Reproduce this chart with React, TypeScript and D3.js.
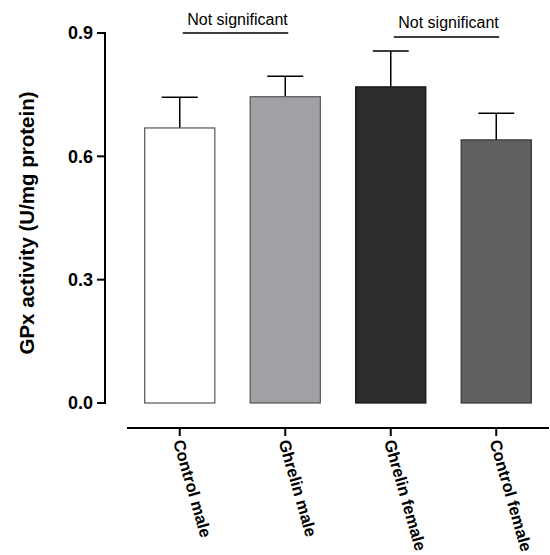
import React from "react";
import * as d3 from "d3";

const categories = ["Control male", "Ghrelin male", "Ghrelin female", "Control female"];
const means = [0.669, 0.745, 0.769, 0.640];
const errors = [0.075, 0.05, 0.087, 0.065];
const fills = ["#ffffff", "#a1a1a5", "#2d2d2d", "#606060"];
const strokes = ["#555555", "#555555", "#111111", "#333333"];
const yTicks = [0.0, 0.3, 0.6, 0.9];
const comparisons: [number, number, string][] = [
  [0, 1, "Not significant"],
  [2, 3, "Not significant"],
];
const yLabel = "GPx activity (U/mg protein)";

export default function App() {
  const W = 550, H = 555;
  const y = d3.scaleLinear().domain([0, 0.9]).range([403, 33]);
  const x = d3.scaleBand<string>().domain(categories).range([127, 549]).padding(0);
  const bw = x.bandwidth() * 0.665;
  const cx = (c: string) => (x(c) as number) + x.bandwidth() / 2;
  const font = "Liberation Sans, Arial, Helvetica, sans-serif";
  const axisX = 105;
  const xAxisY = 428;
  const sigY = [33, 37];
  const sigTextY = [25, 28];
  return (
    <svg width={W} height={H} style={{ position: "absolute", left: 0, top: 0, background: "#fff" }} fontFamily={font}>
      {/* bars */}
      {categories.map((c, i) => (
        <g key={c}>
          <line x1={cx(c)} x2={cx(c)} y1={y(means[i])} y2={y(means[i] + errors[i])} stroke="#000" strokeWidth={1.5} />
          <line x1={cx(c) - 18} x2={cx(c) + 18} y1={y(means[i] + errors[i])} y2={y(means[i] + errors[i])} stroke="#000" strokeWidth={1.5} />
          <rect x={cx(c) - bw / 2} y={y(means[i])} width={bw} height={y(0) - y(means[i])} fill={fills[i]} stroke={strokes[i]} strokeWidth={1.2} />
        </g>
      ))}
      {/* y axis */}
      <line x1={axisX} x2={axisX} y1={y(0.9) - 1} y2={y(0) + 1} stroke="#000" strokeWidth={2} />
      {yTicks.map((t) => (
        <g key={t}>
          <line x1={axisX - 8} x2={axisX} y1={y(t)} y2={y(t)} stroke="#000" strokeWidth={2} />
          <text x={axisX - 12} y={y(t)} dy="0.36em" textAnchor="end" fontWeight="bold" fontSize={18}>
            {d3.format(".1f")(t)}
          </text>
        </g>
      ))}
      <text transform={`translate(34,223) rotate(-90)`} textAnchor="middle" fontWeight="bold" fontSize={20.5}>
        {yLabel}
      </text>
      {/* x axis */}
      <line x1={127} x2={549} y1={xAxisY} y2={xAxisY} stroke="#000" strokeWidth={2} />
      {categories.map((c) => (
        <g key={c}>
          <line x1={cx(c)} x2={cx(c)} y1={xAxisY} y2={xAxisY + 8} stroke="#000" strokeWidth={2} />
          <text transform={`translate(${cx(c) - 1},${xAxisY + 12}) rotate(74)`} dy="0.36em" textAnchor="start" fontWeight="bold" fontSize={16.5}>
            {c}
          </text>
        </g>
      ))}
      {/* significance */}
      {comparisons.map(([a, b, label], k) => {
        const x1 = cx(categories[a]) + 3;
        const x2 = cx(categories[b]) + 3;
        return (
          <g key={k}>
            <line x1={x1} x2={x2} y1={sigY[k]} y2={sigY[k]} stroke="#000" strokeWidth={1.5} />
            <text x={(x1 + x2) / 2 + 2} y={sigTextY[k]} textAnchor="middle" fontSize={16}>
              {label}
            </text>
          </g>
        );
      })}
    </svg>
  );
}
